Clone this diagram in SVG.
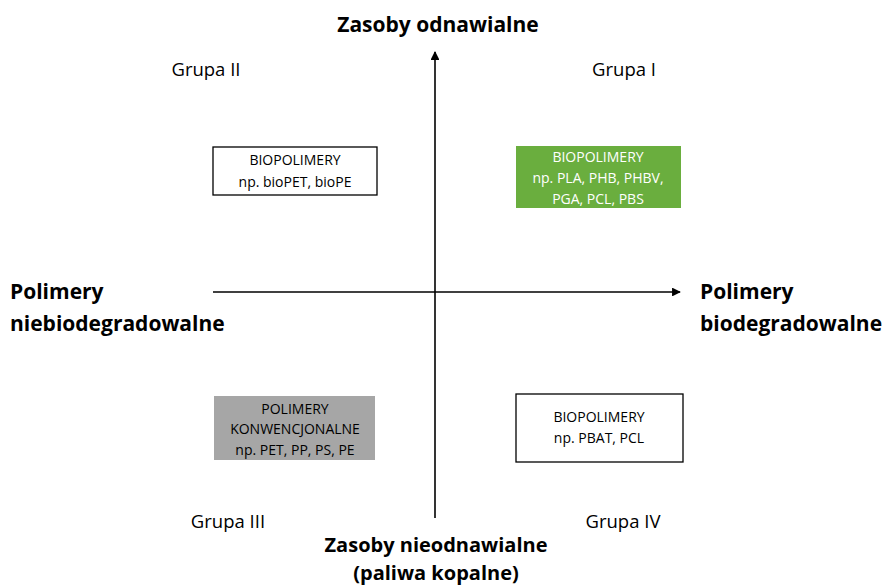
<svg xmlns="http://www.w3.org/2000/svg" width="887" height="587" viewBox="0 0 887 587">
<style>
text{font-family:"Open Sans","Liberation Sans",sans-serif;fill:#000}
.ax{font-weight:bold;font-size:21px}
.axb{font-weight:bold;font-size:20px}
.grp{font-size:18.5px}
.box{font-size:14px;text-anchor:middle}
.ln{stroke:#000;stroke-width:1.6;fill:none}
</style>
<defs>
<marker id="ah" viewBox="0 0 10 10" refX="9" refY="5" markerWidth="5.5" markerHeight="5.5" orient="auto" markerUnits="strokeWidth">
<path d="M0,0 L10,5 L0,10 z" fill="#000"/>
</marker>
</defs>
<g id="connectors">
<line class="ln" x1="435" y1="518" x2="435" y2="52" marker-end="url(#ah)"/>
<line class="ln" x1="213" y1="292" x2="680" y2="292" marker-end="url(#ah)"/>
</g>
<g id="axis-top"><text class="ax" x="438" y="32" text-anchor="middle">Zasoby odnawialne</text></g>
<g id="axis-bottom"><text class="axb" x="436" y="552" text-anchor="middle">Zasoby nieodnawialne</text><text class="axb" x="436" y="580" text-anchor="middle">(paliwa kopalne)</text></g>
<g id="axis-left"><text class="ax" x="10" y="299">Polimery</text><text class="ax" x="10" y="331">niebiodegradowalne</text></g>
<g id="axis-right"><text class="ax" x="700" y="299">Polimery</text><text class="ax" x="700" y="331">biodegradowalne</text></g>
<g id="grupa-2"><text class="grp" x="206" y="76" text-anchor="middle">Grupa II</text></g>
<g id="grupa-1"><text class="grp" x="624" y="76" text-anchor="middle">Grupa I</text></g>
<g id="grupa-3"><text class="grp" x="228" y="528" text-anchor="middle">Grupa III</text></g>
<g id="grupa-4"><text class="grp" x="623" y="528" text-anchor="middle">Grupa IV</text></g>
<g id="box-2">
<rect x="213" y="147" width="164" height="48" fill="#fff" stroke="#000" stroke-width="1.3"/>
<text class="box" x="295" y="165">BIOPOLIMERY</text>
<text class="box" x="295" y="187">np. bioPET, bioPE</text>
</g>
<g id="box-1">
<rect x="516" y="146" width="165" height="62" fill="#6aae3e"/>
<text class="box" x="598" y="162" style="fill:#fff">BIOPOLIMERY</text>
<text class="box" x="598" y="183" style="fill:#fff">np. PLA, PHB, PHBV,</text>
<text class="box" x="598" y="204" style="fill:#fff">PGA, PCL, PBS</text>
</g>
<g id="box-3">
<rect x="214" y="396" width="161" height="64" fill="#a6a6a6"/>
<text class="box" x="295" y="414">POLIMERY</text>
<text class="box" x="295" y="434">KONWENCJONALNE</text>
<text class="box" x="295" y="455">np. PET, PP, PS, PE</text>
</g>
<g id="box-4">
<rect x="516" y="394" width="167" height="68" fill="#fff" stroke="#000" stroke-width="1.3"/>
<text class="box" x="599" y="422">BIOPOLIMERY</text>
<text class="box" x="599" y="443">np. PBAT, PCL</text>
</g>
</svg>
